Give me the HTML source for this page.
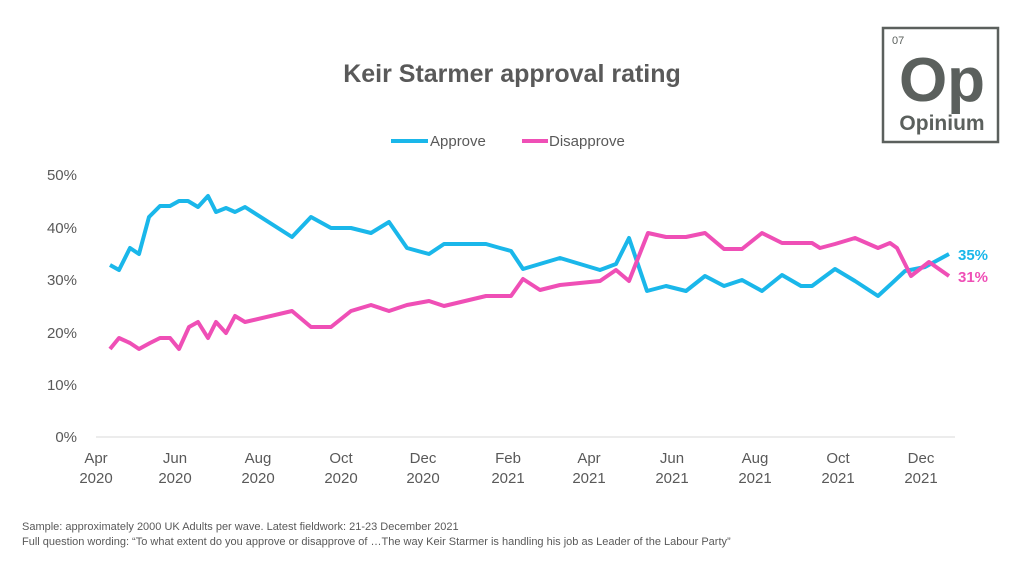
<!DOCTYPE html>
<html><head><meta charset="utf-8"><style>
body{margin:0;width:1024px;height:576px;background:#fff;overflow:hidden;font-family:"Liberation Sans",sans-serif;}
</style></head><body>
<svg width="1024" height="576" xmlns="http://www.w3.org/2000/svg" font-family="Liberation Sans, sans-serif">
<text x="512" y="82" text-anchor="middle" font-size="25" font-weight="bold" fill="#595959">Keir Starmer approval rating</text>
<line x1="391" y1="141" x2="428" y2="141" stroke="#1ab7ea" stroke-width="4"/>
<text x="430" y="146" font-size="15" fill="#595959">Approve</text>
<line x1="522" y1="141" x2="548" y2="141" stroke="#ef4fb6" stroke-width="4"/>
<text x="549" y="146" font-size="15" fill="#595959">Disapprove</text>
<g font-size="15" fill="#595959" text-anchor="end">
<text x="77" y="180">50%</text><text x="77" y="233">40%</text><text x="77" y="285">30%</text>
<text x="77" y="338">20%</text><text x="77" y="390">10%</text><text x="77" y="442">0%</text>
</g>
<line x1="96" y1="437" x2="955" y2="437" stroke="#d9d9d9" stroke-width="1"/>
<g font-size="15" fill="#595959" text-anchor="middle">
<text x="96" y="463">Apr</text><text x="96" y="483">2020</text>
<text x="175" y="463">Jun</text><text x="175" y="483">2020</text>
<text x="258" y="463">Aug</text><text x="258" y="483">2020</text>
<text x="341" y="463">Oct</text><text x="341" y="483">2020</text>
<text x="423" y="463">Dec</text><text x="423" y="483">2020</text>
<text x="508" y="463">Feb</text><text x="508" y="483">2021</text>
<text x="589" y="463">Apr</text><text x="589" y="483">2021</text>
<text x="672" y="463">Jun</text><text x="672" y="483">2021</text>
<text x="755" y="463">Aug</text><text x="755" y="483">2021</text>
<text x="838" y="463">Oct</text><text x="838" y="483">2021</text>
<text x="921" y="463">Dec</text><text x="921" y="483">2021</text>
</g>
<polyline fill="none" stroke="#1ab7ea" stroke-width="4" stroke-linejoin="round" points="110,265 119,270 130,248 139,254 149,217 160,206 170,206 179,201 188,201 198,207 208,196 216,212 226,208 235,212 245,207 292,237 311,217 331,228 351,228 371,233 389,222 407,248 429,254 444,244 486,244 500,248 511,251 523,269 560,258 600,270 616,264 629,238 647,291 666,286 686,291 705,276 724,286 742,280 762,291 782,275 801,286 812,286 835,269 855,281 878,296 890,285 905,271 925,267 949,254"/>
<polyline fill="none" stroke="#ef4fb6" stroke-width="4" stroke-linejoin="round" points="110,349 119,338 130,343 139,349 150,343 160,338 170,338 179,349 189,327 198,322 208,338 216,322 226,333 235,316 245,322 292,311 311,327 331,327 351,311 371,305 389,311 407,305 429,301 444,306 486,296 500,296 511,296 523,279 540,290 560,285 600,281 616,270 629,281 648,233 666,237 686,237 705,233 724,249 742,249 762,233 782,243 801,243 812,243 820,248 835,244 855,238 878,248 890,243 897,248 911,276 929,262 949,276"/>
<text x="958" y="260" font-size="15" font-weight="bold" fill="#1ab7ea">35%</text>
<text x="958" y="282" font-size="15" font-weight="bold" fill="#ef4fb6">31%</text>
<g font-size="11" fill="#595959">
<text x="22" y="530">Sample: approximately 2000 UK Adults per wave. Latest fieldwork: 21-23 December 2021</text>
<text x="22" y="545">Full question wording: “To what extent do you approve or disapprove of …The way Keir Starmer is handling his job as Leader of the Labour Party”</text>
</g>
<rect x="883" y="28" width="115" height="114" fill="none" stroke="#5b605d" stroke-width="2.5"/>
<text x="892" y="44" font-size="11" fill="#5b605d">07</text>
<text x="942" y="101" text-anchor="middle" font-size="62" font-weight="bold" fill="#5b605d">Op</text>
<text x="942" y="130" text-anchor="middle" font-size="21" font-weight="bold" fill="#5b605d">Opinium</text>
</svg>
</body></html>
